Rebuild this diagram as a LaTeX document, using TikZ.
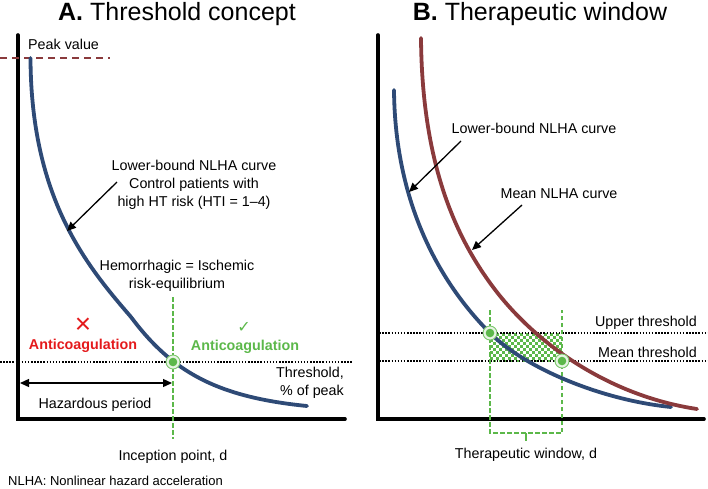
\documentclass[tikz,border=0pt]{standalone}
\usepackage{fontspec}
\setmainfont{Liberation Sans}
\newfontfamily\symfont{DejaVu Sans}
\usepackage{tikz}
\usetikzlibrary{arrows.meta,positioning}

\definecolor{curveblue}{RGB}{46,74,118}
\definecolor{curvered}{RGB}{138,58,60}
\definecolor{eqgreen}{RGB}{92,184,74}
\definecolor{warnred}{RGB}{228,26,28}

\begin{document}
\begin{tikzpicture}[x=1pt,y=-1pt,
  lbl/.style={font=\fontsize{14.3}{18}\selectfont, inner sep=0pt, align=center},
  boldlbl/.style={lbl, font=\fontsize{14.3}{18}\selectfont\bfseries},
  ttl/.style={font=\fontsize{25}{30}\selectfont, inner sep=0pt},
  axis/.style={line width=3.6pt, line cap=round},
  nlha/.style={line width=3.8pt, line cap=round},
  thr/.style={line width=1.3pt, dash pattern=on 1.5pt off 1.6pt},
  vguide/.style={eqgreen, line width=1.3pt, dash pattern=on 4.5pt off 2.5pt},
  ptr/.style={-{Triangle[length=9pt,width=8pt]}, line width=1.3pt},
  hit/.style={circle, draw=eqgreen!80, fill=eqgreen!15, line width=0.9pt,
    minimum size=14pt, inner sep=0pt,
    path picture={\fill[eqgreen] (path picture bounding box.center) circle (4.3pt);}}
]
\useasboundingbox (0,0) rectangle (708,488);

\node[ttl, anchor=base] (ttlA) at (177,20) {\textbf{A.} Threshold concept};
\node[ttl, anchor=base] (ttlB) at (540,20) {\textbf{B.} Therapeutic window};

% A. threshold concept
\draw[axis] (18,35) -- (18,419) -- (345,419);
\draw[curvered, line width=1.3pt, dash pattern=on 7pt off 5pt] (0,58) -- (110,58);
\node[lbl, anchor=base west] (peak) at (28,49) {Peak value};
\draw[thr] (0,362) -- (352,362);
\draw[vguide] (173,297) -- (173,439);
\draw[nlha, curveblue] (30.5,58) .. controls (31,198) and (86,265) .. (131,317)
  .. controls (172,372) and (217,397) .. (307,406);
\node[hit] (eqA) at (173,362) {};

\node[lbl] (lowA) at (194,185) {Lower-bound NLHA curve\\Control patients with\\high HT risk (HTI = 1–4)};
\coordinate (lowAfrom) at (117,182);
\coordinate (lowAtip) at (67,231);
\draw[ptr] (lowAfrom) -- (lowAtip);

\node[lbl] (equil) at (177,276) {Hemorrhagic = Ischemic\\risk-equilibrium};
\node[lbl, warnred, font=\fontsize{28}{28}\selectfont] (noX) at (83,326) {×};
\node[boldlbl, warnred, anchor=base] (noAC) at (83,349) {Anticoagulation};
\node[lbl, eqgreen, font=\fontsize{16}{16}\symfont] (yesV) at (244,327) {✓};
\node[boldlbl, eqgreen, anchor=base] (yesAC) at (245,350) {Anticoagulation};
\node[lbl, align=right, anchor=east] (thrA) at (344,383) {Threshold,\\\% of peak};

\coordinate (hazL) at (20,383);
\coordinate (hazR) at (172,383);
\draw[{Triangle[length=9pt,width=8pt]}-{Triangle[length=9pt,width=8pt]}, line width=1.3pt] (hazL) -- (hazR);
\node[lbl, anchor=base] (haz) at (95,408) {Hazardous period};
\node[lbl, anchor=base] (incep) at (173,460) {Inception point, d};
\node[lbl, anchor=base west, font=\fontsize{13}{15}\selectfont] (foot) at (8,485) {NLHA: Nonlinear hazard acceleration};

% B. therapeutic window
\draw[axis] (378,35) -- (378,419) -- (704,419);
\begin{scope}
  \clip (490,333) rectangle (562,361);
  \foreach \i in {0,...,23}
    \foreach \j in {0,...,9}{
      \pgfmathtruncatemacro\chk{mod(\i+\j,2)}
      \ifnum\chk=0 \fill[eqgreen] (490+3*\i,333+3*\j) rectangle ++(3,3);\fi
    }
\end{scope}
\draw[thr] (376,333) -- (708,333);
\draw[thr] (376,361) -- (708,361);
\draw[vguide] (490,310) -- (490,433) -- (562,433) -- (562,310);
\draw[eqgreen, line width=1.3pt] (526,433) -- (526,441);
\draw[nlha, curveblue] (394,90) .. controls (395,210) and (445,288) .. (490,333)
  .. controls (525,368) and (601,400) .. (671,407);
\draw[nlha, curvered] (421,38) .. controls (422,168) and (458,240) .. (493,287)
  .. controls (534,342) and (607,395.5) .. (697,409);
\node[hit] (upB) at (490,333) {};
\node[hit] (meanB) at (562,361) {};

\node[lbl, anchor=base] (lowB) at (534,133) {Lower-bound NLHA curve};
\coordinate (lowBfrom) at (461,141);
\coordinate (lowBtip) at (409,192);
\draw[ptr] (lowBfrom) -- (lowBtip);
\node[lbl, anchor=base] (meanlbl) at (559,198) {Mean NLHA curve};
\coordinate (meanfrom) at (522,205);
\coordinate (meantip) at (472,250);
\draw[ptr] (meanfrom) -- (meantip);

\node[lbl, anchor=base east] (upthr) at (697,326) {Upper threshold};
\node[lbl, anchor=base east] (meanthr) at (697,357) {Mean threshold};
\node[lbl, anchor=base] (twin) at (526,458) {Therapeutic window, d};
\end{tikzpicture}
\end{document}
